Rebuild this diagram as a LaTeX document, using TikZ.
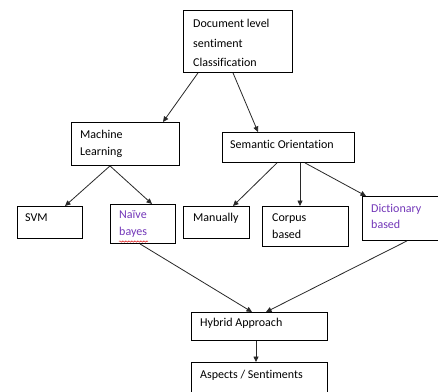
\documentclass[tikz,border=0pt]{standalone}
\usepackage{fontspec}
\setmainfont[Ligatures=NoCommon]{Carlito}
\usetikzlibrary{arrows.meta,decorations.pathmorphing}
\definecolor{nbpurple}{RGB}{115,55,185}
\definecolor{arrowgray}{RGB}{40,40,40}
\tikzset{
  box/.style={draw=black, line width=0.9pt, rectangle, inner sep=0pt, anchor=north west},
  txt/.style={font=\fontsize{12}{17}\selectfont, text=black, inner sep=0pt, anchor=west, align=left},
  ptxt/.style={txt, text=nbpurple},
  arr/.style={draw=arrowgray, line width=0.8pt, -{Triangle[length=5.5pt,width=5pt]}},
}
\begin{document}
\begin{tikzpicture}[x=1pt,y=-1pt]
\useasboundingbox (0,0) rectangle (438,391);
\clip (0,0) rectangle (438,391);
\fill[white] (0,0) rectangle (438,391);
% boxes
\node[box, minimum width=109pt, minimum height=62pt] (top) at (183,10) {};
\node[box, minimum width=108pt, minimum height=43pt] (ml) at (71,122) {};
\node[box, minimum width=132pt, minimum height=30pt] (so) at (222,132) {};
\node[box, minimum width=65pt, minimum height=32pt] (svm) at (17,206) {};
\node[box, minimum width=65pt, minimum height=39pt] (nb) at (110,204) {};
\node[box, minimum width=66pt, minimum height=32pt] (man) at (183,206) {};
\node[box, minimum width=86pt, minimum height=40pt] (corp) at (262,206) {};
\node[box, minimum width=82pt, minimum height=44pt] (dict) at (362,196) {};
\node[box, minimum width=136pt, minimum height=28pt] (hyb) at (191,312) {};
\node[box, minimum width=136pt, minimum height=40pt] (asp) at (191,362) {};
% texts
\node[txt, font=\fontsize{12}{19.5}\selectfont] (ttop) at (193,43) {Document level\\sentiment\\Classification};
\node[txt] (tml) at (80,143.5) {Machine\\Learning};
\node[txt] (tso) at (230,144) {Semantic Orientation};
\node[txt] (tsvm) at (25,218) {SVM};
\node[ptxt] (tnb) at (119,224) {Naïve\\bayes};
\node[txt] (tman) at (193,218) {Manually};
\node[txt] (tcorp) at (272,226) {Corpus\\based};
\node[ptxt, font=\fontsize{12}{15.5}\selectfont] (tdict) at (371,216.5) {Dictionary\\based};
\node[txt] (thyb) at (200,323) {Hybrid Approach};
\node[txt] (tasp) at (200,375) {Aspects / Sentiments};
% spell-check underline
\coordinate (wl) at (119,241.5);
\coordinate (wr) at (148,241.5);
\draw[red!85!black, line width=0.45pt, decorate, decoration={snake, amplitude=0.7pt, segment length=3pt}] (wl) -- (wr);
% connectors
\draw[arr] ([xshift=15pt]top.south west) -- ([xshift=92pt]ml.north west);
\draw[arr] ([xshift=50pt]top.south west) -- ([xshift=36pt]so.north west);
\draw[arr] ([xshift=39pt]ml.south west) -- ([xshift=48pt]svm.north west);
\draw[arr] ([xshift=39pt]ml.south west) -- ([xshift=42pt]nb.north west);
\draw[arr] ([xshift=55pt]so.south west) -- ([xshift=50pt]man.north west);
\draw[arr] ([xshift=78pt]so.south west) -- ([xshift=38pt]corp.north west);
\draw[arr] ([xshift=83pt]so.south west) -- ([xshift=4pt]dict.north west);
\draw[arr] ([xshift=30pt]nb.south west) -- ([xshift=61pt]hyb.north west);
\draw[arr] ([xshift=45pt]dict.south west) -- ([xshift=75pt]hyb.north west);
\draw[arr] ([xshift=65pt]hyb.south west) -- ([xshift=65pt]asp.north west);
\end{tikzpicture}
\end{document}
